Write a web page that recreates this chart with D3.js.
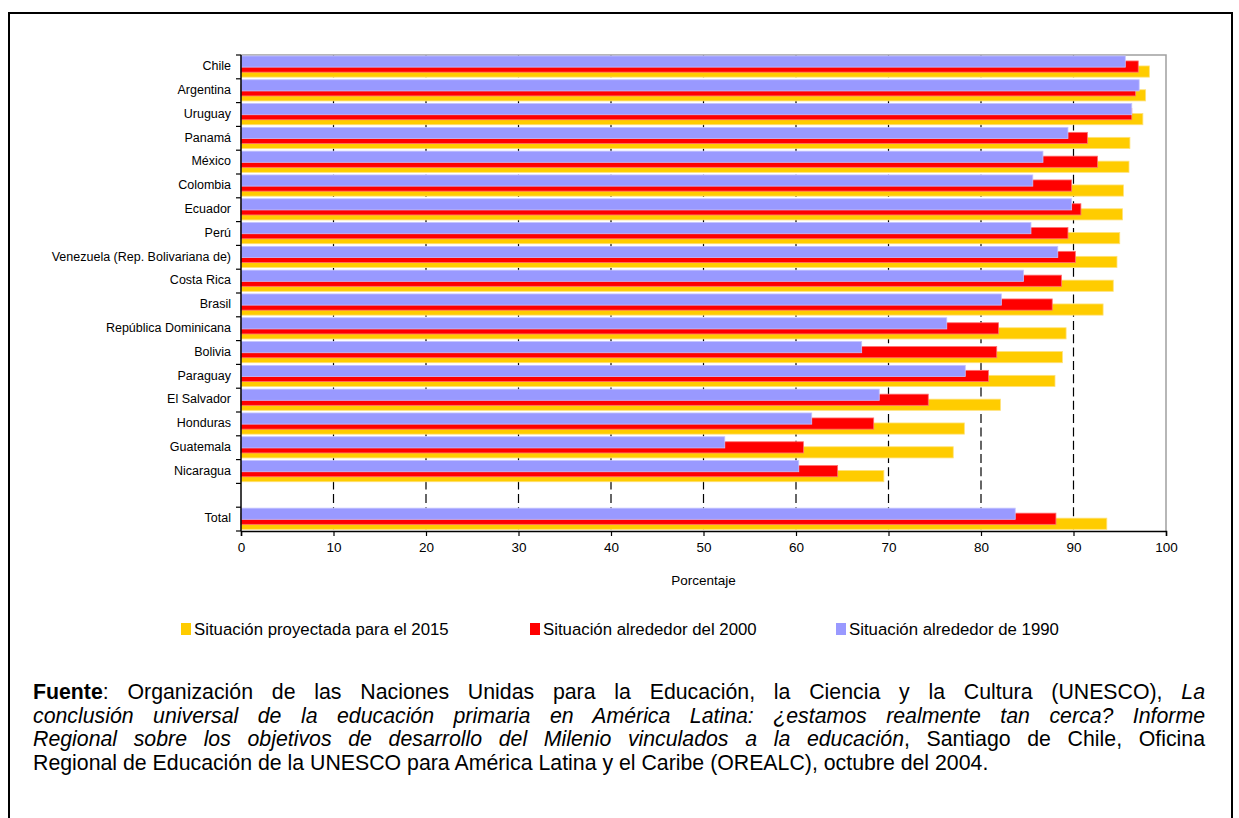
<!DOCTYPE html>
<html>
<head>
<meta charset="utf-8">
<script src="https://cdn.jsdelivr.net/npm/d3@7"></script>
<style>
  html, body { margin: 0; padding: 0; background: #fff; }
  #wrap { position: relative; width: 1239px; height: 818px; overflow: hidden; }
  svg { position: absolute; left: 0; top: 0; }
  #footer { position: absolute; left: 33px; top: 681px; width: 1172px;
    font-family: "Liberation Sans", Arial, sans-serif; font-size: 21.3px; line-height: 23.5px;
    color: #000; }
  #footer .ln { text-align: justify; text-align-last: justify; white-space: nowrap; }
  #footer .ln.last { text-align: left; text-align-last: left; }
</style>
</head>
<body>
<div id="wrap"></div>
<script>
const categories = ["Chile","Argentina","Uruguay","Panamá","México","Colombia","Ecuador","Perú",
  "Venezuela (Rep. Bolivariana de)","Costa Rica","Brasil","República Dominicana","Bolivia",
  "Paraguay","El Salvador","Honduras","Guatemala","Nicaragua"," ","Total"];
const v2015 = [98.2,97.8,97.5,96.1,96.0,95.4,95.3,95.0,94.7,94.3,93.2,89.2,88.8,88.0,82.1,78.2,77.0,69.5,null,93.6];
const v2000 = [97.0,96.7,96.3,91.5,92.6,89.8,90.8,89.4,90.2,88.7,87.7,81.9,81.7,80.8,74.3,68.4,60.8,64.5,null,88.1];
const v1990 = [95.6,97.1,96.3,89.4,86.7,85.6,89.8,85.4,88.3,84.6,82.2,76.3,67.1,78.3,69.0,61.7,52.3,60.3,null,83.7];
const xTicks = [0,10,20,30,40,50,60,70,80,90,100];
const seriesNames = ["Situación proyectada para el 2015","Situación alrededor del 2000","Situación alrededor de 1990"];
const seriesColors = ["#FFCC00","#FF0000","#9999FF"];
const xTitle = "Porcentaje";
const footerLines = [
  '<b>Fuente</b>: Organización de las Naciones Unidas para la Educación, la Ciencia y la Cultura (UNESCO), <i>La</i>',
  '<i>conclusión universal de la educación primaria en América Latina: ¿estamos realmente tan cerca? Informe</i>',
  '<i>Regional sobre los objetivos de desarrollo del Milenio vinculados a la educación</i>, Santiago de Chile, Oficina',
  'Regional de Educación de la UNESCO para América Latina y el Caribe (OREALC), octubre del 2004.'
];

(function () {
const W = 1239, H = 818;
const font = '"Liberation Sans", Arial, sans-serif';
const wrap = d3.select("#wrap");
const svg = wrap.append("svg").attr("width", W).attr("height", H);

// outer box
svg.append("rect").attr("x", 9).attr("y", 13).attr("width", 1223).attr("height", 830)
  .attr("fill", "none").attr("stroke", "#000").attr("stroke-width", 2);

const pL = 241, pR = 1166, pT = 55, pB = 531;
const x = d3.scaleLinear().domain([0, 100]).range([pL, pR]);
const y = d3.scaleBand().domain(categories).range([pT, pB]).paddingInner(0).paddingOuter(0);
const bw = y.bandwidth();

// gridlines
svg.append("g").selectAll("line").data(xTicks.filter(t => t > 0 && t < 100)).join("line")
  .attr("x1", d => x(d)).attr("x2", d => x(d)).attr("y1", pT).attr("y2", pB)
  .attr("stroke", "#000").attr("stroke-width", 1.2).attr("stroke-dasharray", "9,4.3");

// frame top & right
svg.append("path").attr("d", `M${pL},${pT}H${pR}V${pB}`)
  .attr("fill", "none").attr("stroke", "#a0a0a0").attr("stroke-width", 1.5);

const rows = categories.map((c, i) => ({c, a: v2015[i], b: v2000[i], d: v1990[i]})).filter(r => r.a != null);
const layers = [
  {key: "a", color: seriesColors[0], off: 0.46, stroke: "#FFE27A"},
  {key: "b", color: seriesColors[1], off: 0.25, stroke: "#FF7070"},
  {key: "d", color: seriesColors[2], off: 0.04, stroke: "#C4C4FF"}
];
const bh = bw * 0.47;
layers.forEach(L => {
  svg.append("g").selectAll("rect").data(rows).join("rect")
    .attr("x", x(0)).attr("y", d => y(d.c) + bw * L.off)
    .attr("width", d => x(d[L.key]) - x(0)).attr("height", bh)
    .attr("fill", L.color).attr("stroke", L.stroke).attr("stroke-width", 0.8);
});

// y axis
const yAxisG = svg.append("g");
yAxisG.append("line").attr("x1", pL).attr("x2", pL).attr("y1", pT).attr("y2", pB)
  .attr("stroke", "#000").attr("stroke-width", 1.5);
const bounds = categories.map(c => y(c)).concat([pB]);
yAxisG.selectAll("line.tk").data(bounds).join("line").attr("class", "tk")
  .attr("x1", pL - 5).attr("x2", pL).attr("y1", d => d).attr("y2", d => d)
  .attr("stroke", "#000").attr("stroke-width", 1.2);
yAxisG.selectAll("text").data(categories.filter(c => c.trim() !== "")).join("text")
  .attr("x", 231).attr("y", d => y(d) + bw / 2 - 1).attr("dy", "0.35em")
  .attr("text-anchor", "end").attr("font-family", font).attr("font-size", "12.5px").attr("fill", "#000")
  .text(d => d);

// x axis
const xAxis = d3.axisBottom(x).tickValues(xTicks).tickSize(5).tickPadding(6).tickFormat(d3.format("d"));
const xg = svg.append("g").attr("transform", `translate(0,${pB})`).call(xAxis);
xg.select(".domain").attr("stroke", "#000").attr("stroke-width", 1.5);
xg.selectAll(".tick line").attr("stroke", "#000").attr("stroke-width", 1.2);
xg.selectAll(".tick text").attr("font-family", font).attr("font-size", "13.5px").attr("fill", "#000");

svg.append("text").attr("x", (pL + pR) / 2).attr("y", 585)
  .attr("text-anchor", "middle").attr("font-family", font).attr("font-size", "13.5px").text(xTitle);

// legend
const legX = [181, 530, 836];
const leg = svg.append("g").selectAll("g").data(seriesNames).join("g")
  .attr("transform", (d, i) => `translate(${legX[i]},623)`);
leg.append("rect").attr("width", 10).attr("height", 12).attr("fill", (d, i) => seriesColors[i]);
leg.append("text").attr("x", 13).attr("y", 6).attr("dy", "0.35em")
  .attr("font-family", font).attr("font-size", "16.8px").text(d => d);

// footer
const foot = wrap.append("div").attr("id", "footer");
foot.selectAll("div").data(footerLines).join("div")
  .attr("class", (d, i) => i === footerLines.length - 1 ? "ln last" : "ln")
  .html(d => d);
})();
</script>
</body>
</html>
